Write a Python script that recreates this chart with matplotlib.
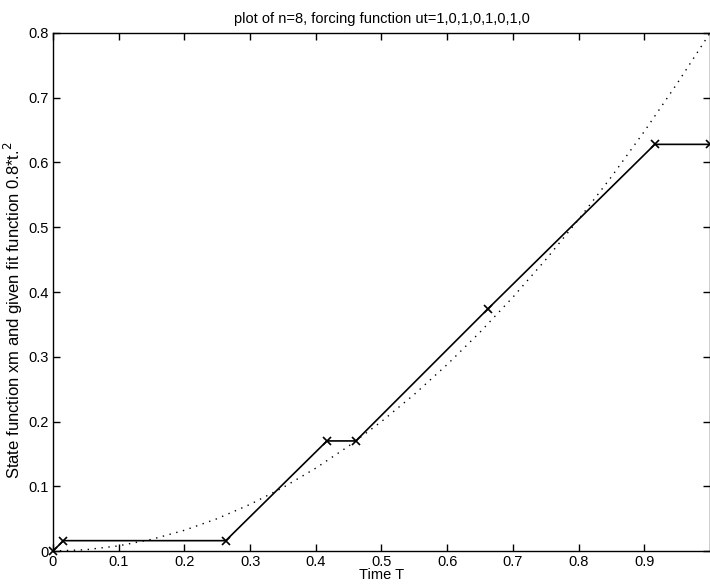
import numpy as np
import matplotlib.pyplot as plt

# state function xm
t_state = [0.0, 0.016, 0.263, 0.417, 0.461, 0.662, 0.916, 1.0]
xm = [0.0, 0.016, 0.016, 0.170, 0.170, 0.374, 0.628, 0.628]

# given fit function 0.8*t.^2
t_fit = [0.0, 0.05, 0.1, 0.15, 0.2, 0.25, 0.3, 0.35, 0.4, 0.45, 0.5,
         0.55, 0.6, 0.65, 0.7, 0.75, 0.8, 0.85, 0.9, 0.95, 1.0]
y_fit = [0.0, 0.002, 0.008, 0.018, 0.032, 0.05, 0.072, 0.098, 0.128, 0.162, 0.2,
         0.242, 0.288, 0.338, 0.392, 0.45, 0.512, 0.578, 0.648, 0.722, 0.8]

xticks = [0, 0.1, 0.2, 0.3, 0.4, 0.5, 0.6, 0.7, 0.8, 0.9]
xticklabels = ["0", "0.1", "0.2", "0.3", "0.4", "0.5", "0.6", "0.7", "0.8", "0.9"]
yticks = [0, 0.1, 0.2, 0.3, 0.4, 0.5, 0.6, 0.7, 0.8]
yticklabels = ["0", "0.1", "0.2", "0.3", "0.4", "0.5", "0.6", "0.7", "0.8"]

plt.rcParams['font.family'] = ['Liberation Sans', 'DejaVu Sans']
plt.rcParams['font.size'] = 10.5

fig = plt.figure(figsize=(7.1, 5.87), dpi=100, facecolor="w")
ax = fig.add_axes([0.0746, 0.0613, 0.9254, 0.8825])

ax.plot(t_state, xm, color='k', lw=1.2, marker='x', ms=6, mew=1.2, clip_on=False, zorder=5)
ax.plot(t_fit, y_fit, color='k', lw=1.0, linestyle=(0, (1, 4)), clip_on=False)

ax.set_xlim(0, 1)
ax.set_ylim(0, 0.8)
ax.set_xticks(xticks)
ax.set_xticklabels(xticklabels)
ax.set_yticks(yticks)
ax.set_yticklabels(yticklabels)
ax.tick_params(direction='in', top=True, right=True, length=5, width=1, pad=3)
for s in ax.spines.values():
    s.set_linewidth(1.0)

ax.set_title("plot of n=8, forcing function ut=1,0,1,0,1,0,1,0", fontsize=10.5, pad=7)
ax.set_xlabel("Time T", labelpad=-1)
ax.set_ylabel("State function xm and given fit function 0.8*t.$^2$", fontsize=12)
ax.yaxis.set_label_coords(-0.043, 0.465)

plt.savefig("out.png", dpi=100)
